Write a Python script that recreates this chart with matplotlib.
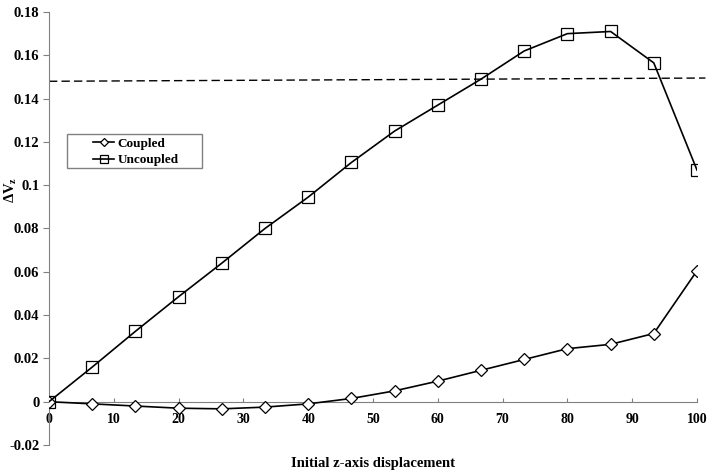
import matplotlib
matplotlib.use("Agg")
import matplotlib.pyplot as plt
from matplotlib.patches import Rectangle
import numpy as np

x = [0, 6.67, 13.33, 20, 26.67, 33.33, 40, 46.67, 53.33, 60, 66.67, 73.33, 80, 86.67, 93.33, 100]
uncoupled = [0, 0.016, 0.0325, 0.0485, 0.064, 0.080, 0.0945, 0.1105, 0.125, 0.137, 0.149, 0.162, 0.170, 0.171, 0.1565, 0.107]
coupled = [0, -0.001, -0.002, -0.003, -0.0033, -0.0025, -0.001, 0.0015, 0.005, 0.0095, 0.0145, 0.0195, 0.0245, 0.0265, 0.0315, 0.0605]
dash_x = [0, 101.3]
dash_y = [0.148, 0.1495]
xticks = [0, 10, 20, 30, 40, 50, 60, 70, 80, 90, 100]
yticks = [-0.02, 0, 0.02, 0.04, 0.06, 0.08, 0.1, 0.12, 0.14, 0.16, 0.18]
ytick_labels = ["-0.02", "0", "0.02", "0.04", "0.06", "0.08", "0.1", "0.12", "0.14", "0.16", "0.18"]

plt.rcParams['font.family'] = ['Liberation Serif', 'DejaVu Serif']
plt.rcParams['font.weight'] = 'bold'
plt.rcParams['mathtext.fontset'] = 'custom'
plt.rcParams['mathtext.rm'] = 'Liberation Serif:bold'
plt.rcParams['mathtext.bf'] = 'Liberation Serif:bold'

W, H = 709, 474
fig = plt.figure(figsize=(7.09, 4.74), dpi=100)
ax = fig.add_axes([49/W, 1-445/H, (697-49)/W, (445-12)/H])

ax.plot(x, coupled, color='black', lw=1.2, marker='D', markersize=6, mfc='white', mec='black', mew=0.9, label='Coupled', zorder=3)
ax.plot(x, uncoupled, color='black', lw=1.2, marker='s', markersize=8, mfc='none', mec='black', mew=0.9, label='Uncoupled', zorder=3)
ax.plot(dash_x, dash_y, color='black', lw=1.0, ls=(0, (6, 3)), clip_on=False)

ax.set_xlim(0, 100)
ax.set_ylim(-0.02, 0.18)
ax.set_yticks(yticks)
ax.set_yticklabels(ytick_labels, fontsize=10.5, fontweight='bold')
ax.set_xticks(xticks)
ax.set_xticklabels([str(t) for t in xticks], fontsize=10.5, fontweight='bold')

for s in ['top', 'right']:
    ax.spines[s].set_visible(False)
ax.spines['left'].set_color('#808080')
ax.spines['bottom'].set_color('#808080')
ax.spines['bottom'].set_position(('data', 0))
ax.tick_params(axis='y', direction='out', length=4, color='#808080', pad=3)
ax.tick_params(axis='x', direction='in', length=3, color='#808080', pad=8)

fig.text(11/W, 1-190/H, r'$\mathbf{\Delta V_z}$', rotation=90, ha='center', va='center', fontsize=10.5)
fig.text((49+697)/2/W, 1-463/H, 'Initial z-axis displacement', ha='center', va='center', fontsize=10.5, fontweight='bold')

# legend frame (Excel-style box with extra right padding)
fig.patches.append(Rectangle((67/W, 1-168/H), (202-67)/W, (168-134)/H, transform=fig.transFigure,
                             fill=True, facecolor='white', edgecolor='#808080', lw=1.0, zorder=5))
leg = fig.legend(*ax.get_legend_handles_labels(), loc='center left', bbox_to_anchor=(93/W, 1-152/H),
                 frameon=False, fontsize=9.5, handlelength=1.6, handletextpad=0.25, borderpad=0,
                 labelspacing=0.3, borderaxespad=0, markerscale=0.75)
leg.set_zorder(6)
for t in leg.get_texts():
    t.set_fontweight('bold')

fig.savefig('out.png', dpi=100)
